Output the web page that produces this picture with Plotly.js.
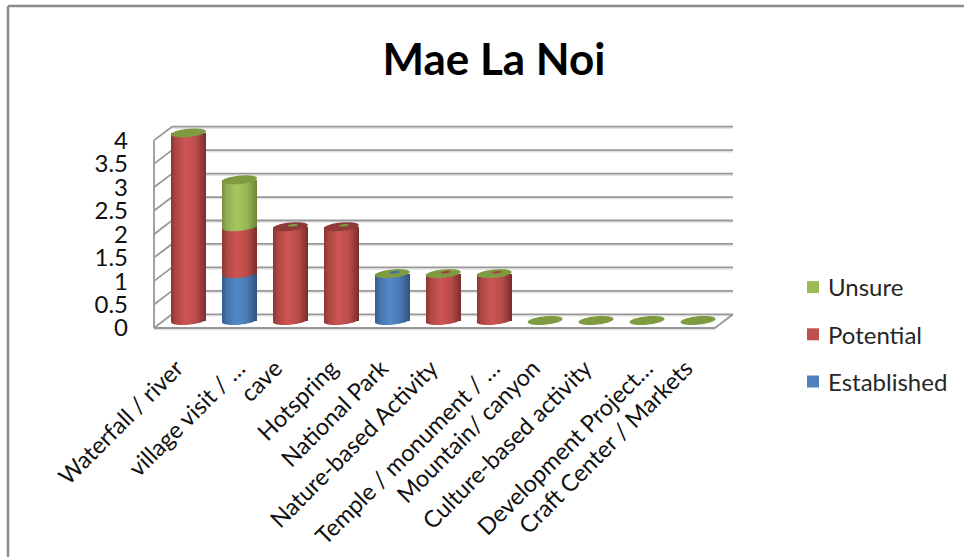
<!DOCTYPE html>
<html><head><meta charset="utf-8">
<script src="https://cdn.plot.ly/plotly-3.0.1.min.js"></script>
<style>html,body{margin:0;padding:0;background:#fff;overflow:hidden}#chart{width:964px;height:557px}</style>
</head><body>
<svg width="0" height="0" style="position:absolute"><defs>
<linearGradient id="grad-Established"><stop offset="0" stop-color="#33598a"/><stop offset=".14" stop-color="#4673aa"/><stop offset=".42" stop-color="#5389c8"/><stop offset=".72" stop-color="#4a7ab3"/><stop offset="1" stop-color="#2f5380"/></linearGradient>
<linearGradient id="grad-Potential"><stop offset="0" stop-color="#8a3533"/><stop offset=".14" stop-color="#ad4744"/><stop offset=".42" stop-color="#cd5553"/><stop offset=".72" stop-color="#b94c49"/><stop offset="1" stop-color="#7a2e2c"/></linearGradient>
<linearGradient id="grad-Unsure"><stop offset="0" stop-color="#769040"/><stop offset=".14" stop-color="#92b052"/><stop offset=".42" stop-color="#a5c660"/><stop offset=".72" stop-color="#96b555"/><stop offset="1" stop-color="#6d853a"/></linearGradient>
</defs></svg>
<div id="chart"></div>
<script>
const categories = ["Waterfall / river","village visit / …","cave","Hotspring","National Park","Nature-based Activity","Temple / monument / …","Mountain/ canyon","Culture-based activity","Development Project…","Craft Center / Markets"];
const established = [0,1,0,0,1,0,0,0,0,0,0];
const potential   = [4,1,2,2,0,1,1,0,0,0,0];
const unsure      = [0,1,0,0,0,0,0,0,0,0,0];
const yTicks = [0,0.5,1,1.5,2,2.5,3,3.5,4];
const yTickText = ["0","0.5","1","1.5","2","2.5","3","3.5","4"];
const series = [
  {name:"Established", values:established, color:"#4f81bd", rank:3},
  {name:"Potential",   values:potential,   color:"#c0504d", rank:2},
  {name:"Unsure",      values:unsure,      color:"#9bbb59", rank:1}
];
const capColors = ["#7f9b42","#7f9b42","#8f3a38","#8f3a38","#7f9b42","#7f9b42","#7f9b42","#7f9b42","#7f9b42","#7f9b42","#7f9b42"];
const capFlecks = [null,null,"#7f9b42","#7f9b42","#3f6fa6","#a8403e","#a8403e",null,null,null,null];
const labelNudgePx = [-12,-1,-15,-10,-11,-12,-1,-12,-11,-1,-12];

const W=964,H=557;
const pxCat0=188.5, pxCatStep=50.95, pxPerUnit=46.9;
const pxBase=320.5, pxBackBase=314.3, pxFrontBase=328;
const pxL=150, pxR=740, pxT=100, pxB=345;
const xToData=p=>(p-pxCat0)/pxCatStep;
const dy=p=>(pxBase-p)/pxPerUnit;
const backLeft=xToData(172), backRight=xToData(733), frontLeft=xToData(154), frontRight=xToData(715);
const backOff=dy(pxBackBase), frontOff=dy(pxFrontBase);
const ax=17.5/pxCatStep, by=4.2/pxPerUnit, skew=1.6/pxPerUnit;

function ellipsePath(cx,cy,sx,sy){
  let s="";
  for(let k=0;k<36;k++){
    const t=k/36*2*Math.PI;
    const X=cx+ax*sx*Math.cos(t), Y=cy+by*sy*Math.sin(t)+skew*sx*Math.cos(t);
    s+=(k?"L":"M")+X.toFixed(4)+","+Y.toFixed(4);
  }
  return s+"Z";
}
const gridColor="#989898", shadow="#e4e4e4", shOff=1.6/pxPerUnit;
const shapes=[];
function seg(x0,y0,x1,y1,w,c){shapes.push({type:"line",xref:"x",yref:"y",x0,y0,x1,y1,layer:"below",line:{color:c||gridColor,width:w||1.8}});}
yTicks.forEach(v=>{
  seg(backLeft,v+backOff-shOff,backRight,v+backOff-shOff,1.4,shadow);
  seg(backLeft,v+backOff,backRight,v+backOff);
  seg(frontLeft,v+frontOff,backLeft,v+backOff);
});
seg(frontLeft,frontOff-shOff,frontRight,frontOff-shOff,1.4,shadow);
seg(frontLeft,frontOff,frontRight,frontOff,2);
seg(frontRight,frontOff,backRight,backOff);
seg(frontLeft,frontOff,frontLeft,4+frontOff);
categories.forEach((c,i)=>{
  let base=0;
  series.forEach(s=>{
    const v=s.values[i];
    if(v>0){
      shapes.push({type:"path",xref:"x",yref:"y",layer:"above",path:ellipsePath(i,base,1,1),fillcolor:s.color,line:{width:0}});
      base+=v;
    }
  });
  shapes.push({type:"path",xref:"x",yref:"y",layer:"above",path:ellipsePath(i,base,1,1),fillcolor:capColors[i],line:{width:0}});
  if(capFlecks[i]) shapes.push({type:"path",xref:"x",yref:"y",layer:"above",path:ellipsePath(i+0.05,base+0.03,0.28,0.28),fillcolor:capFlecks[i],line:{width:0}});
});
shapes.push({type:"line",xref:"paper",yref:"paper",x0:8/W,x1:8/W,y0:0,y1:1-6/H,line:{color:"#8c8c8c",width:2.5}});
shapes.push({type:"line",xref:"paper",yref:"paper",x0:8/W,x1:1,y0:1-6/H,y1:1-6/H,line:{color:"#8c8c8c",width:2.5}});

const traces=series.map(s=>({type:"bar",name:s.name,x:categories.map((c,i)=>i),y:s.values,marker:{color:s.color,line:{width:0}},legendgroup:s.name,legendrank:s.rank,hoverinfo:"y+name"}));
traces.push({type:"scatter",mode:"none",x:[0,0],y:[0,4],yaxis:"y2",showlegend:false,hoverinfo:"skip"});

const yDomain=[1-pxB/H,1-pxT/H];
const layout={
  width:W,height:H,margin:{l:0,r:0,t:0,b:0},paper_bgcolor:"#fff",plot_bgcolor:"rgba(0,0,0,0)",
  barmode:"stack",bargap:1-35/pxCatStep,showlegend:true,
  font:{family:"Lato, Carlito, sans-serif",color:"#111"},
  title:{text:"Mae La Noi",font:{family:"Lato, sans-serif",size:44,color:"#000",weight:700},x:494/W,xref:"paper",xanchor:"center",y:1-60/H,yref:"paper",yanchor:"middle"},
  xaxis:{domain:[pxL/W,pxR/W],range:[xToData(pxL),xToData(pxR)],anchor:"free",position:1-pxFrontBase/H,
    tickmode:"array",tickvals:categories.map((c,i)=>i+labelNudgePx[i]/pxCatStep),ticktext:categories,tickangle:-45,ticks:"",showgrid:false,zeroline:false,showline:false,ticklabelstandoff:21,
    tickfont:{size:23.5,color:"#111"}},
  yaxis:{domain:yDomain,range:[dy(pxB),dy(pxT)],visible:false,fixedrange:true},
  yaxis2:{domain:yDomain,overlaying:"y",anchor:"free",position:154/W,side:"left",range:[dy(pxB)-frontOff,dy(pxT)-frontOff],
    tickmode:"array",tickvals:yTicks,ticktext:yTickText,ticks:"",showgrid:false,zeroline:false,showline:false,ticklabelstandoff:26,
    tickfont:{size:24,color:"#111"}},
  legend:{x:788/W,xanchor:"left",y:1-265/H,yanchor:"top",traceorder:"grouped",tracegroupgap:13,bgcolor:"rgba(0,0,0,0)",font:{size:24,color:"#262626"}},
  shapes
};
const gd=document.getElementById("chart");
Plotly.newPlot(gd,traces,layout,{displayModeBar:false,staticPlot:true}).then(()=>{
  const toRgb=h=>{const n=parseInt(h.slice(1),16);return `rgb(${n>>16}, ${(n>>8)&255}, ${n&255})`;};
  const map={};series.forEach(s=>map[toRgb(s.color)]=`url(#grad-${s.name})`);
  gd.querySelectorAll(".barlayer .point path, .shapelayer path").forEach(p=>{
    const g=map[p.style.fill]; if(g) p.style.fill=g;
  });
  gd.querySelectorAll(".legend .legendsymbols").forEach(e=>e.setAttribute("transform","translate(5,0)"));
});
</script>
</body></html>
